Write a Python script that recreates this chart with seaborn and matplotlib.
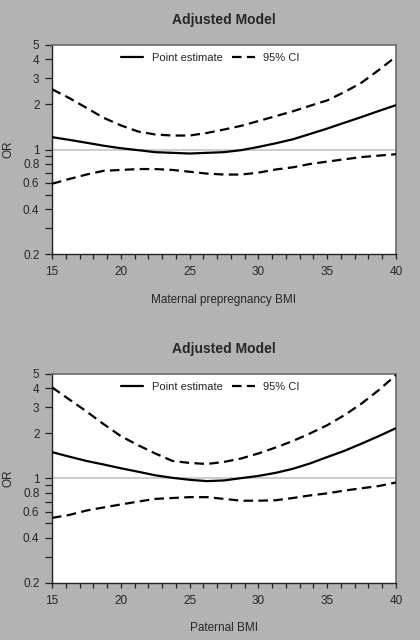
import matplotlib
matplotlib.use('Agg')
import matplotlib.pyplot as plt
import numpy as np
import pandas as pd
import seaborn as sns

# BMI grid the values were read at
bmi = [15, 16.25, 17.5, 18.75, 20, 21.25, 22.5, 23.75, 25, 26.25, 27.5,
       28.75, 30, 31.25, 32.5, 33.75, 35, 36.25, 37.5, 38.75, 40]

# maternal prepregnancy BMI panel
mat_est = [1.21, 1.16, 1.11, 1.06, 1.02, 0.99, 0.96, 0.95, 0.94, 0.95, 0.96,
           0.99, 1.04, 1.10, 1.17, 1.27, 1.38, 1.51, 1.65, 1.81, 1.98]
mat_upper = [2.53, 2.21, 1.90, 1.63, 1.45, 1.32, 1.26, 1.24, 1.24, 1.29, 1.36,
             1.44, 1.55, 1.67, 1.80, 1.96, 2.13, 2.42, 2.80, 3.40, 4.18]
mat_lower = [0.59, 0.635, 0.68, 0.72, 0.73, 0.74, 0.74, 0.73, 0.71, 0.69, 0.68,
             0.68, 0.70, 0.735, 0.76, 0.80, 0.83, 0.86, 0.89, 0.91, 0.93]

# paternal BMI panel
pat_est = [1.50, 1.40, 1.31, 1.24, 1.17, 1.11, 1.05, 1.01, 0.98, 0.96, 0.97,
           1.005, 1.04, 1.09, 1.16, 1.26, 1.39, 1.53, 1.71, 1.92, 2.17]
pat_upper = [4.07, 3.38, 2.81, 2.31, 1.92, 1.67, 1.47, 1.31, 1.27, 1.25, 1.29,
             1.36, 1.47, 1.61, 1.78, 2.00, 2.27, 2.65, 3.17, 3.90, 4.92]
pat_lower = [0.545, 0.57, 0.61, 0.64, 0.67, 0.70, 0.73, 0.74, 0.75, 0.75, 0.73,
             0.71, 0.71, 0.715, 0.74, 0.77, 0.795, 0.83, 0.86, 0.89, 0.94]

titles = ['Adjusted Model', 'Adjusted Model']
xlabels = ['Maternal prepregnancy BMI', 'Paternal BMI']
ytick_vals = [0.2, 0.3, 0.4, 0.5, 0.6, 0.7, 0.8, 0.9, 1, 2, 3, 4, 5]
ytick_labels = ['0.2', '', '0.4', '', '0.6', '', '0.8', '', '1', '2', '3', '4', '5']
xtick_vals = [15, 20, 25, 30, 35, 40]

BG = '#b3b3b3'
DASH = (4.3, 2.4)

if __name__ == '__main__':

    sns.set_style('ticks')
    plt.rcParams['font.family'] = ['Liberation Sans', 'DejaVu Sans']

    fig = plt.figure(figsize=(4.2, 6.4), dpi=100, facecolor=BG)
    ax1 = fig.add_axes([0.1238, 0.6031, 0.819, 0.3266])
    ax2 = fig.add_axes([0.1238, 0.0891, 0.819, 0.3266])

    panels = [(ax1, mat_est, mat_upper, mat_lower),
              (ax2, pat_est, pat_upper, pat_lower)]

    for i, (ax, est, upper, lower) in enumerate(panels):
        dframe = pd.DataFrame({'BMI': bmi, 'est': est,
                               'upper': upper, 'lower': lower})
        ax.set_facecolor('white')
        ax.axhline(1, color='#c9c9c9', lw=1.3, zorder=1)
        sns.lineplot(x='BMI', y='est', data=dframe, ax=ax, color='black',
                     lw=1.6, label='Point estimate', zorder=3)
        sns.lineplot(x='BMI', y='upper', data=dframe, ax=ax, color='black',
                     lw=1.6, label='95% CI', zorder=3)
        sns.lineplot(x='BMI', y='lower', data=dframe, ax=ax, color='black',
                     lw=1.6, zorder=3)
        ax.lines[-1].set_dashes(DASH)
        ax.lines[-2].set_dashes(DASH)

        ax.set_yscale('log')
        ax.set_ylim(0.2, 5)
        ax.set_xlim(15, 40)
        ax.yaxis.set_major_locator(matplotlib.ticker.FixedLocator(ytick_vals))
        ax.yaxis.set_major_formatter(matplotlib.ticker.FixedFormatter(ytick_labels))
        ax.yaxis.set_minor_locator(matplotlib.ticker.NullLocator())
        ax.set_xticks(xtick_vals)
        ax.set_xticks(np.arange(15, 41), minor=True)
        ax.tick_params(axis='x', which='both', length=3.8, width=0.9,
                       color='#222222', labelsize=8.5, pad=5)
        ax.tick_params(axis='y', which='both', length=5, width=0.9,
                       color='#222222', labelsize=8.5, pad=4)

        for side in ['left', 'bottom']:
            ax.spines[side].set_color('#222222')
            ax.spines[side].set_linewidth(1.0)
        for side in ['top', 'right']:
            ax.spines[side].set_color('#6a6a6a')
            ax.spines[side].set_linewidth(1.2)

        ax.set_title(titles[i], fontsize=10, fontweight='bold', pad=15)
        ax.set_xlabel(xlabels[i], fontsize=8.5, labelpad=11)
        ax.set_ylabel('OR', fontsize=8.5, labelpad=6)

        leg = ax.legend(loc='upper center', ncol=2, frameon=False,
                        fontsize=8, handlelength=2.0, columnspacing=0.9,
                        handletextpad=0.75, borderaxespad=0.35,
                        bbox_to_anchor=(0.46, 1.0))
        for h in leg.get_lines()[1:]:
            h.set_dashes(DASH)

    fig.savefig('out.png', dpi=100, facecolor=BG)
